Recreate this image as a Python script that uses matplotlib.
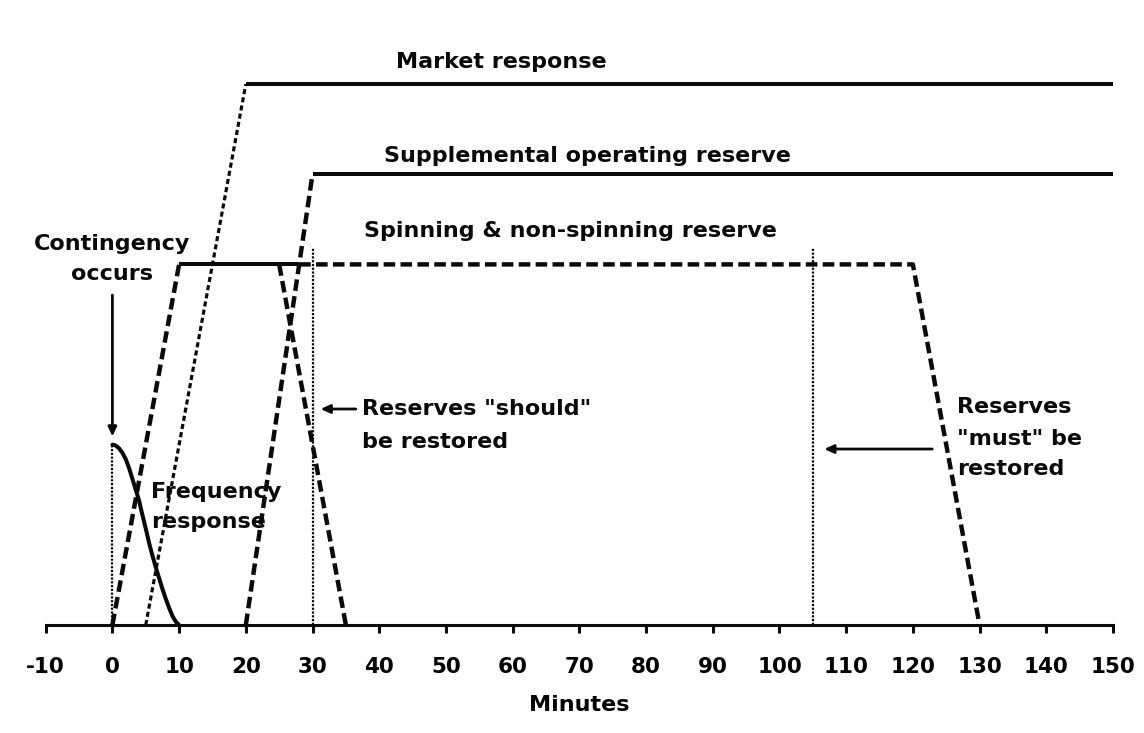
import matplotlib
matplotlib.use("Agg")
import matplotlib.pyplot as plt

# ---------------- data ----------------
x_ticks = [-10, 0, 10, 20, 30, 40, 50, 60, 70, 80, 90, 100, 110, 120, 130, 140, 150]
x_tick_labels = ["-10", "0", "10", "20", "30", "40", "50", "60", "70", "80",
                 "90", "100", "110", "120", "130", "140", "150"]

# Market response: ramp (dotted) then plateau (solid)
market_ramp_x = [5, 20]
market_ramp_y = [0, 3.0]
market_flat_x = [20, 150]
market_flat_y = [3.0, 3.0]

# Supplemental operating reserve
supp_ramp_x = [20, 30]
supp_ramp_y = [0, 2.5]
supp_flat_x = [30, 150]
supp_flat_y = [2.5, 2.5]

# Spinning & non-spinning reserve
spin_ramp_x = [0, 10]
spin_ramp_y = [0, 2.0]
spin_flat_x = [10, 28]
spin_flat_y = [2.0, 2.0]
spin_restored_x = [28, 120, 130]
spin_restored_y = [2.0, 2.0, 0]
spin_release_x = [25, 35]
spin_release_y = [2.0, 0]

# Frequency response
freq_x = [0, 0.25, 0.5, 1, 1.5, 2, 2.5, 3, 3.5, 4, 4.5, 5, 5.5, 6, 6.5, 7,
          7.5, 8, 8.5, 9, 9.5, 10]
freq_y = [1.0, 0.999, 0.995, 0.98, 0.955, 0.92, 0.87, 0.81, 0.75, 0.69,
          0.61, 0.535, 0.455, 0.385, 0.32, 0.26, 0.2, 0.145, 0.095, 0.05, 0.018, 0.0]

# Vertical dotted markers
vline_x = [0, 30, 105]
vline_top = [1.0, 2.09, 2.09]

# ---------------- figure ----------------
W, H = 1144, 733
fig = plt.figure(figsize=(W / 100, H / 100), dpi=100)
fig.patch.set_facecolor("white")

ax_left = 45.7 / W
ax_right = 1113.0 / W
ax_bottom = 108.0 / H
ymax = 3.4
unit_px = 180.3
ax_h = ymax * unit_px / H
ax = fig.add_axes([ax_left, ax_bottom, ax_right - ax_left, ax_h])
ax.set_xlim(-10, 150)
ax.set_ylim(0, ymax)

K = "#0a0a0a"
solid_lw = 2.9
dash_lw = 3.2
dash_style = (0, (2.6, 1.2))
fine_style = (0, (1.6, 1.0))
dot_style = (0, (1.0, 0.7))

# market
ax.plot(market_ramp_x, market_ramp_y, color=K, lw=2.3, linestyle=fine_style, clip_on=False)
ax.plot(market_flat_x, market_flat_y, color=K, lw=solid_lw, solid_capstyle="butt", clip_on=False)
# supplemental
ax.plot(supp_ramp_x, supp_ramp_y, color=K, lw=dash_lw, linestyle=dash_style, clip_on=False)
ax.plot(supp_flat_x, supp_flat_y, color=K, lw=solid_lw, solid_capstyle="butt", clip_on=False)
# spinning
ax.plot(spin_ramp_x, spin_ramp_y, color=K, lw=dash_lw, linestyle=dash_style, clip_on=False)
ax.plot(spin_flat_x, spin_flat_y, color=K, lw=solid_lw, solid_capstyle="butt", clip_on=False)
ax.plot(spin_restored_x, spin_restored_y, color=K, lw=dash_lw, linestyle=dash_style, clip_on=False)
ax.plot(spin_release_x, spin_release_y, color=K, lw=dash_lw, linestyle=dash_style, clip_on=False)
# frequency response
ax.plot(freq_x, freq_y, color=K, lw=solid_lw, solid_capstyle="round",
        solid_joinstyle="round", clip_on=False)

# vertical dotted lines
for vx, vt in zip(vline_x, vline_top):
    ax.plot([vx, vx], [0, vt], color=K, lw=1.6, linestyle=dot_style, clip_on=False)

# arrows
arrow_kw = dict(arrowstyle="-|>,head_length=0.55,head_width=0.25", color=K, lw=2.0,
                shrinkA=0, shrinkB=0)
ax.annotate("", xy=(0, 1.045), xytext=(0, 1.83), arrowprops=arrow_kw)
ax.annotate("", xy=(31.2, 1.198), xytext=(36.5, 1.198), arrowprops=arrow_kw)
ax.annotate("", xy=(106.7, 0.976), xytext=(122.9, 0.976), arrowprops=arrow_kw)

# texts
FS = 16
tkw = dict(fontsize=FS, fontweight="bold", family="DejaVu Sans", color=K, va="baseline")
ax.text(42.5, 3.09, "Market response", ha="left", **tkw)
ax.text(40.7, 2.57, "Supplemental operating reserve", ha="left", **tkw)
ax.text(37.7, 2.154, "Spinning & non-spinning reserve", ha="left", **tkw)
ax.text(0.0, 2.08, "Contingency", ha="center", **tkw)
ax.text(0.0, 1.913, "occurs", ha="center", **tkw)
ax.text(5.76, 0.704, "Frequency", ha="left", **tkw)
ax.text(5.76, 0.538, "response", ha="left", **tkw)
ax.text(37.4, 1.165, 'Reserves "should"', ha="left", **tkw)
ax.text(37.4, 0.982, "be restored", ha="left", **tkw)
ax.text(126.6, 1.176, "Reserves", ha="left", **tkw)
ax.text(126.6, 0.998, '"must" be', ha="left", **tkw)
ax.text(126.6, 0.832, "restored", ha="left", **tkw)

# axes styling
for s in ["left", "right", "top"]:
    ax.spines[s].set_visible(False)
ax.spines["bottom"].set_linewidth(2.2)
ax.spines["bottom"].set_color(K)
ax.set_yticks([])
ax.set_xticks(x_ticks, x_tick_labels)
ax.tick_params(axis="x", direction="out", length=5.8, width=2.2, color=K, pad=17,
               labelsize=15.5)
for lbl in ax.get_xticklabels():
    lbl.set_fontweight("bold")
    lbl.set_family("DejaVu Sans")
ax.set_xlabel("Minutes", fontsize=FS, fontweight="bold", family="DejaVu Sans", labelpad=13)
ax.patch.set_alpha(0)

fig.savefig("out.png", dpi=100, facecolor="white")
